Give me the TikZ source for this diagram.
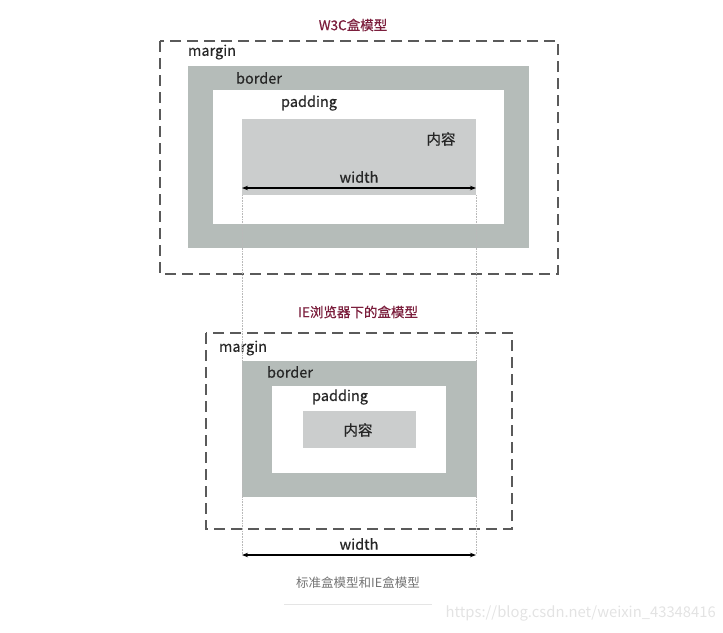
\documentclass[tikz,border=0pt]{standalone}
\usepackage{fontspec}
\setmainfont{Noto Sans CJK SC}
\newfontfamily\lblfont[FakeBold=0.5]{Noto Sans CJK SC}
\newfontfamily\ttlfont[FakeBold=0.5]{Noto Sans CJK SC}
\usetikzlibrary{arrows.meta}
\definecolor{bordergray}{HTML}{B5BCB9}
\definecolor{contentgray}{HTML}{CBCDCD}
\definecolor{titlered}{HTML}{7B1E3C}
\definecolor{dashgray}{HTML}{5A5A5A}
\tikzset{
  marginbox/.style={draw=dashgray, line width=1.2pt, dash pattern=on 11pt off 6pt},
  borderbox/.style={fill=bordergray},
  paddingbox/.style={fill=white},
  contentbox/.style={fill=contentgray},
  lbl/.style={font=\lblfont\fontsize{14.5}{16}\selectfont, text=black!85, inner sep=0pt},
  ttl/.style={font=\ttlfont\fontsize{13.5}{15}\selectfont, text=titlered, inner sep=0pt},
  dim/.style={line width=1.4pt, {Stealth[length=6pt,width=4.5pt]}-{Stealth[length=6pt,width=4.5pt]}},
  guide/.style={draw=gray!55, densely dotted, line width=0.6pt}
}
\begin{document}
\begin{tikzpicture}[x=1pt,y=-1pt]
\useasboundingbox (0,0) rectangle (723,632);
% ---- W3C box ----
\node[ttl] (t1) at (353,25) {W3C盒模型};
\draw[marginbox] (160,41) rectangle (558,274);
\fill[borderbox] (188,66) rectangle (529,248);
\fill[paddingbox] (213,90) rectangle (504,224);
\fill[contentbox] (242,119) rectangle (476,195);
\node[lbl] (m1) at (212,52) {margin};
\node[lbl] (b1) at (259,78) {border};
\node[lbl] (p1) at (309,103) {padding};
\node[lbl] (c1) at (441,139) {内容};
\coordinate (a1l) at (242,188);
\coordinate (a1r) at (476,188);
\draw[dim] (a1l) -- (a1r);
\node[lbl] (w1) at (359,177) {width};
% ---- IE box ----
\node[ttl] (t2) at (358,312) {IE浏览器下的盒模型};
\draw[marginbox] (206,333) rectangle (512,529);
\fill[borderbox] (242,361) rectangle (477,497);
\fill[paddingbox] (272,386) rectangle (446,473);
\fill[contentbox] (303,411) rectangle (416,448);
\node[lbl] (m2) at (243,348) {margin};
\node[lbl] (b2) at (290,372) {border};
\node[lbl] (p2) at (340,397) {padding};
\node[lbl] (c2) at (358,430) {内容};
\coordinate (a2l) at (242,555);
\coordinate (a2r) at (476,555);
\draw[dim] (a2l) -- (a2r);
\node[lbl] (w2) at (359,544) {width};
% ---- guides ----
\coordinate (g1) at (242,195);
\coordinate (g2) at (476,195);
\draw[guide] (g1) -- (a2l);
\draw[guide] (g2) -- (a2r);
% ---- caption ----
\node[font=\fontsize{12.5}{14}\selectfont, text=black!55, inner sep=0pt] (cap) at (358,583) {标准盒模型和IE盒模型};
\coordinate (ul) at (284,604);
\coordinate (ur) at (432,604);
\draw[black!10, line width=0.8pt] (ul) -- (ur);
\node[font=\fontsize{14.8}{16}\selectfont, text=black!11, inner sep=0pt, anchor=east] (wm) at (716,613) {https://blog.csdn.net/weixin\_43348416};
\end{tikzpicture}
\end{document}
